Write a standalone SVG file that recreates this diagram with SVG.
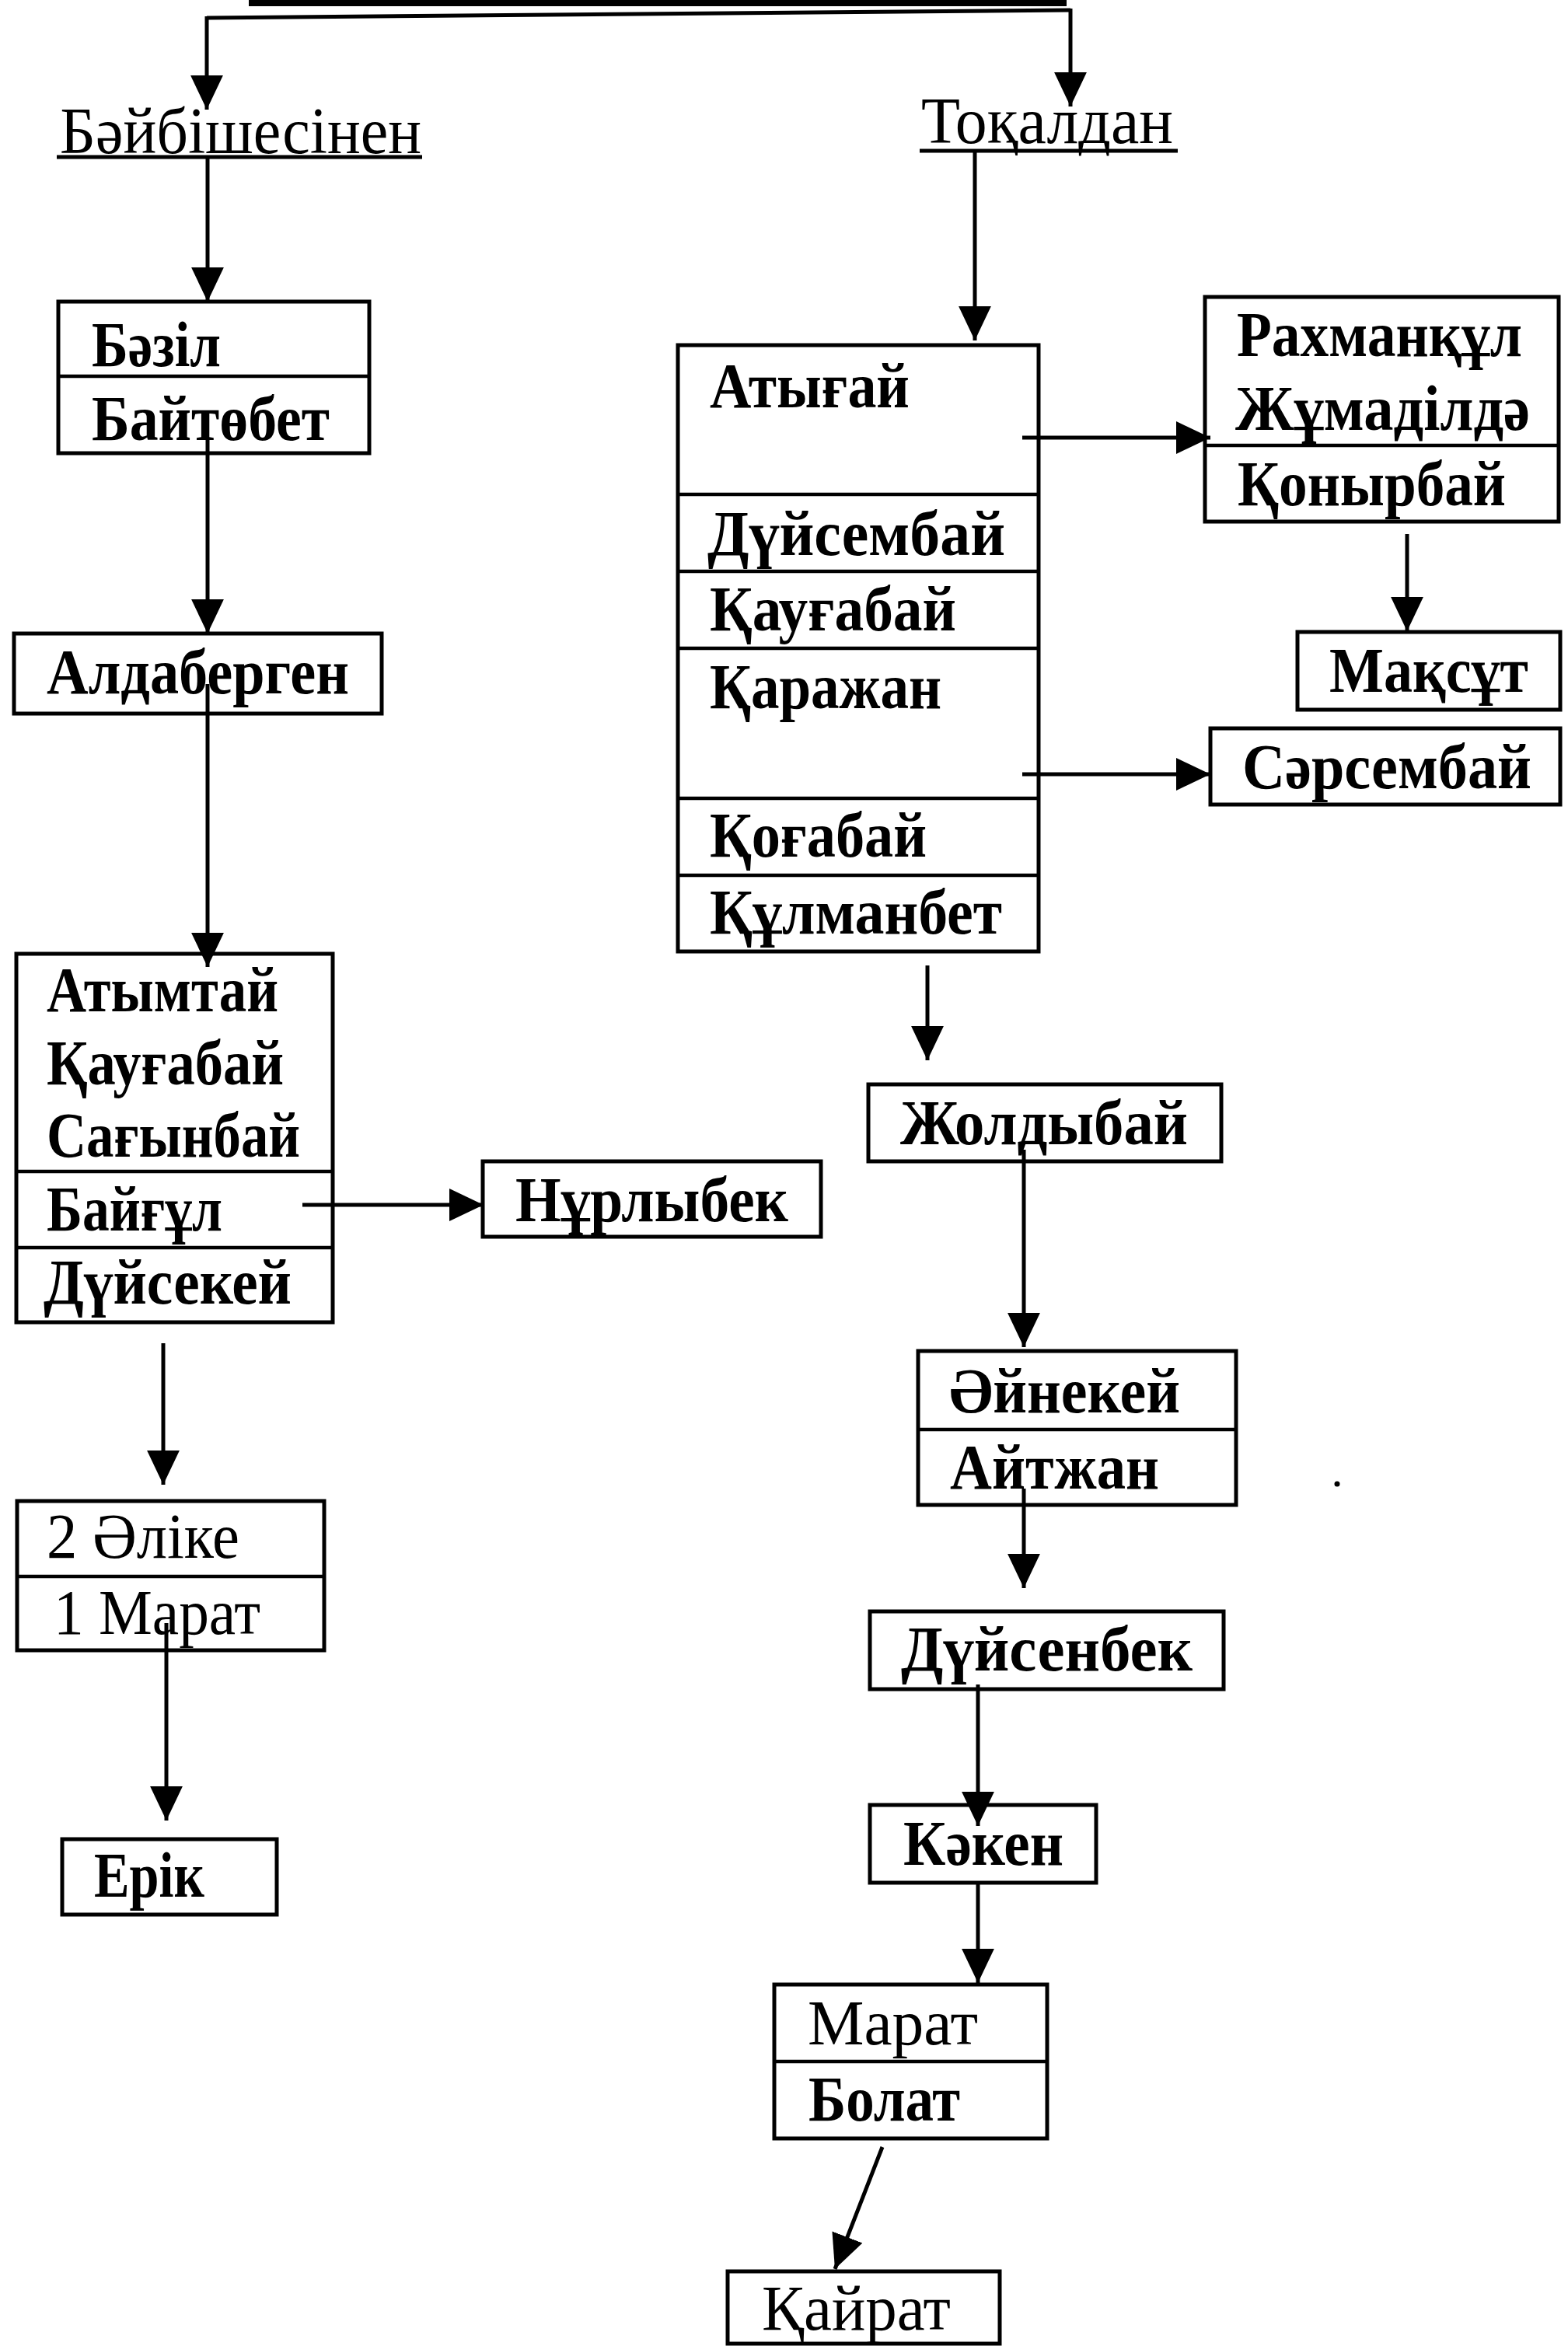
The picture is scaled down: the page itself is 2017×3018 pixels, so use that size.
<svg xmlns="http://www.w3.org/2000/svg" width="2017" height="3018" viewBox="0 0 2017 3018">
<style>
.bg{fill:#ffffff}
.box{fill:none;stroke:#000;stroke-width:5}
.div{stroke:#000;stroke-width:4.5}
.t{font-family:"Liberation Serif","Times New Roman",serif;font-size:83px;font-weight:bold;fill:#000}
.h{font-family:"Liberation Serif","Times New Roman",serif;font-size:84px;fill:#000}
.ul{stroke:#000;stroke-width:5}
.c{stroke:#000;stroke-width:5;fill:none}
.ca{stroke:#000;stroke-width:5;fill:none;marker-end:url(#ah)}
</style>
<defs>
<marker id="ah" markerUnits="userSpaceOnUse" markerWidth="44" markerHeight="44" viewBox="0 0 40 40" refX="40" refY="20" orient="auto">
<path d="M0,1 L40,20 L0,39 Z" fill="#000"/>
</marker>
</defs>
<rect class="bg" x="0" y="0" width="2017" height="3018"/>

<g id="connectors">
<line class="c" x1="320" y1="4" x2="1372" y2="4" style="stroke-width:8"/>
<line class="c" x1="266" y1="23" x2="1377" y2="13"/>
<line class="ca" x1="266" y1="21" x2="266" y2="141"/>
<line class="ca" x1="1377" y1="11" x2="1377" y2="137"/>
<line class="ca" x1="267" y1="201" x2="267" y2="388"/>
<line class="ca" x1="267" y1="566" x2="267" y2="815"/>
<line class="ca" x1="267" y1="880" x2="267" y2="1244"/>
<line class="ca" x1="389" y1="1550" x2="622" y2="1550"/>
<line class="ca" x1="210" y1="1728" x2="210" y2="1910"/>
<line class="ca" x1="214" y1="2088" x2="214" y2="2342"/>
<line class="ca" x1="1254" y1="194" x2="1254" y2="438"/>
<line class="ca" x1="1315" y1="563" x2="1557" y2="563"/>
<line class="ca" x1="1315" y1="996" x2="1557" y2="996"/>
<line class="ca" x1="1810" y1="687" x2="1810" y2="812"/>
<line class="ca" x1="1193" y1="1242" x2="1193" y2="1364"/>
<line class="ca" x1="1317" y1="1479" x2="1317" y2="1733"/>
<line class="ca" x1="1317" y1="1915" x2="1317" y2="2043"/>
<line class="ca" x1="1258" y1="2167" x2="1258" y2="2349"/>
<line class="ca" x1="1258" y1="2423" x2="1258" y2="2551"/>
<line class="ca" x1="1135" y1="2762" x2="1074" y2="2919"/>
</g>

<g id="baibishesinen">
<text class="h" x="77" y="197" textLength="465" lengthAdjust="spacingAndGlyphs">Бәйбішесінен</text>
<line class="ul" x1="73" y1="202" x2="543" y2="202"/>
</g>
<g id="tokaldan">
<text class="h" x="1185" y="184" textLength="324" lengthAdjust="spacingAndGlyphs">Тоқалдан</text>
<line class="ul" x1="1183" y1="194" x2="1515" y2="194"/>
</g>

<g id="bazil">
<rect class="box" x="75" y="388" width="400" height="195"/>
<line class="div" x1="75" y1="484" x2="475" y2="484"/>
<text class="t" x="118" y="471" textLength="166" lengthAdjust="spacingAndGlyphs">Бәзіл</text>
<text class="t" x="118" y="566" textLength="306" lengthAdjust="spacingAndGlyphs">Байтөбет</text>
</g>

<g id="aldabergen">
<rect class="box" x="18" y="815" width="473" height="103"/>
<text class="t" x="60" y="892" textLength="389" lengthAdjust="spacingAndGlyphs">Алдаберген</text>
</g>

<g id="atymtai">
<rect class="box" x="21" y="1227" width="407" height="474"/>
<line class="div" x1="21" y1="1507" x2="428" y2="1507"/>
<line class="div" x1="21" y1="1605" x2="428" y2="1605"/>
<text class="t" x="60" y="1301" textLength="298" lengthAdjust="spacingAndGlyphs">Атымтай</text>
<text class="t" x="60" y="1395" textLength="305" lengthAdjust="spacingAndGlyphs">Қауғабай</text>
<text class="t" x="60" y="1488" textLength="326" lengthAdjust="spacingAndGlyphs">Сағынбай</text>
<text class="t" x="60" y="1583" textLength="226" lengthAdjust="spacingAndGlyphs">Байғұл</text>
<text class="t" x="56" y="1677" textLength="319" lengthAdjust="spacingAndGlyphs">Дүйсекей</text>
</g>

<g id="nurlybek">
<rect class="box" x="621" y="1494" width="435" height="97"/>
<text class="t" x="663" y="1571" textLength="351" lengthAdjust="spacingAndGlyphs">Нұрлыбек</text>
</g>

<g id="alike">
<rect class="box" x="22" y="1931" width="395" height="192"/>
<line class="div" x1="22" y1="2028" x2="417" y2="2028"/>
<text class="t" x="60" y="2004" textLength="248" lengthAdjust="spacingAndGlyphs" style="font-weight:normal">2 Әліке</text>
<text class="t" x="69" y="2102" textLength="266" lengthAdjust="spacingAndGlyphs" style="font-weight:normal">1 Марат</text>
</g>

<g id="erik">
<rect class="box" x="80" y="2366" width="276" height="97"/>
<text class="t" x="121" y="2440" textLength="142" lengthAdjust="spacingAndGlyphs">Ерік</text>
</g>

<g id="atygai">
<rect class="box" x="872" y="444" width="464" height="780"/>
<line class="div" x1="872" y1="636" x2="1336" y2="636"/>
<line class="div" x1="872" y1="735" x2="1336" y2="735"/>
<line class="div" x1="872" y1="834" x2="1336" y2="834"/>
<line class="div" x1="872" y1="1027" x2="1336" y2="1027"/>
<line class="div" x1="872" y1="1126" x2="1336" y2="1126"/>
<text class="t" x="913" y="524" textLength="257" lengthAdjust="spacingAndGlyphs">Атығай</text>
<text class="t" x="910" y="714" textLength="383" lengthAdjust="spacingAndGlyphs">Дүйсембай</text>
<text class="t" x="913" y="811" textLength="317" lengthAdjust="spacingAndGlyphs">Қауғабай</text>
<text class="t" x="913" y="911" textLength="298" lengthAdjust="spacingAndGlyphs">Қаражан</text>
<text class="t" x="913" y="1102" textLength="279" lengthAdjust="spacingAndGlyphs">Қоғабай</text>
<text class="t" x="913" y="1201" textLength="376" lengthAdjust="spacingAndGlyphs">Құлманбет</text>
</g>

<g id="rahmanqul">
<rect class="box" x="1550" y="382" width="455" height="289"/>
<line class="div" x1="1550" y1="573" x2="2005" y2="573"/>
<text class="t" x="1591" y="458" textLength="367" lengthAdjust="spacingAndGlyphs">Рахманқұл</text>
<text class="t" x="1589" y="553" textLength="379" lengthAdjust="spacingAndGlyphs">Жұмаділдә</text>
<text class="t" x="1592" y="650" textLength="345" lengthAdjust="spacingAndGlyphs">Қонырбай</text>
</g>

<g id="maqsut">
<rect class="box" x="1669" y="813" width="338" height="100"/>
<text class="t" x="1710" y="890" textLength="256" lengthAdjust="spacingAndGlyphs">Мақсұт</text>
</g>

<g id="sarsembai">
<rect class="box" x="1557" y="937" width="450" height="98"/>
<text class="t" x="1598" y="1014" textLength="372" lengthAdjust="spacingAndGlyphs">Сәрсембай</text>
</g>

<g id="zholdybai">
<rect class="box" x="1117" y="1395" width="454" height="99"/>
<text class="t" x="1158" y="1472" textLength="370" lengthAdjust="spacingAndGlyphs">Жолдыбай</text>
</g>

<g id="ainekei">
<rect class="box" x="1181" y="1738" width="409" height="198"/>
<line class="div" x1="1181" y1="1839" x2="1590" y2="1839"/>
<text class="t" x="1221" y="1817" textLength="297" lengthAdjust="spacingAndGlyphs">Әйнекей</text>
<text class="t" x="1222" y="1915" textLength="269" lengthAdjust="spacingAndGlyphs">Айтжан</text>
</g>

<g id="duisenbek">
<rect class="box" x="1119" y="2073" width="455" height="100"/>
<text class="t" x="1159" y="2149" textLength="375" lengthAdjust="spacingAndGlyphs">Дүйсенбек</text>
</g>

<g id="kaken">
<rect class="box" x="1119" y="2322" width="291" height="100"/>
<text class="t" x="1162" y="2399" textLength="206" lengthAdjust="spacingAndGlyphs">Кәкен</text>
</g>

<g id="marat">
<rect class="box" x="996" y="2553" width="351" height="198"/>
<line class="div" x1="996" y1="2652" x2="1347" y2="2652"/>
<text class="t" x="1039" y="2630" textLength="219" lengthAdjust="spacingAndGlyphs" style="font-weight:normal">Марат</text>
<text class="t" x="1040" y="2728" textLength="195" lengthAdjust="spacingAndGlyphs">Болат</text>
</g>

<g id="qairat">
<rect class="box" x="936" y="2922" width="350" height="93"/>
<text class="t" x="980" y="2997" textLength="243" lengthAdjust="spacingAndGlyphs" style="font-weight:normal">Қайрат</text>
</g>

<circle cx="1720" cy="1909" r="3.5" fill="#000"/>
</svg>
